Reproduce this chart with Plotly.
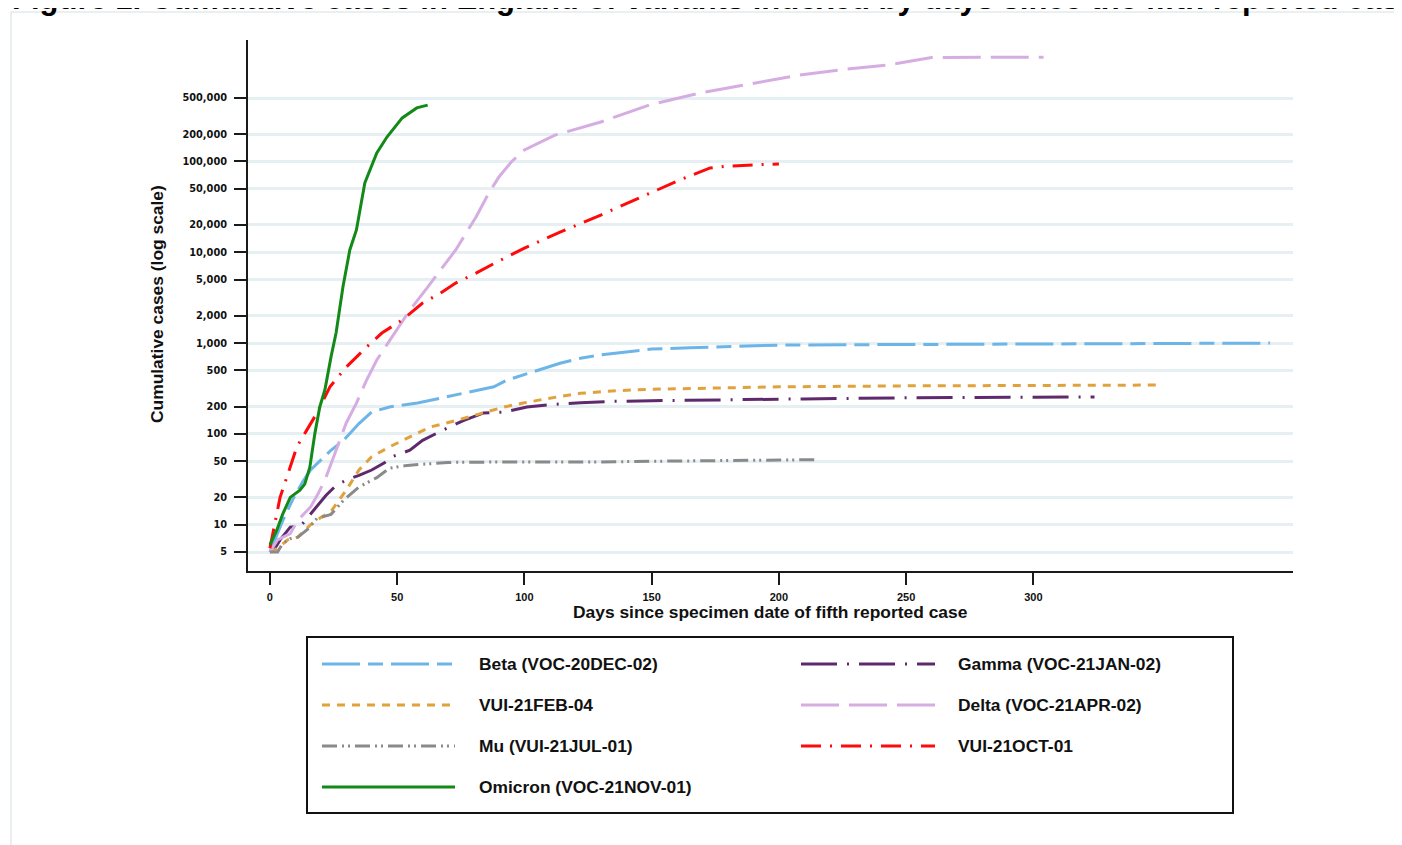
import plotly.graph_objects as go

# ---------------- data ----------------
beta_days = [0, 2, 5, 9, 13, 16, 20, 24, 29, 35, 40, 47, 58, 70, 80, 88, 93, 100, 106, 114, 122, 130, 140, 150, 165, 180, 200, 230, 260, 300, 340, 393]
beta_vals = [5, 7, 11, 19, 30, 40, 52, 66, 85, 130, 174, 198, 219, 260, 300, 330, 390, 450, 510, 600, 680, 740, 800, 860, 890, 920, 950, 960, 970, 980, 990, 1000]

gamma_days = [0, 2, 4, 7, 8, 12, 14.5, 18.5, 22, 26, 30, 35, 40, 45, 48, 55, 60, 68, 76, 84, 92, 101, 110, 122, 135, 150, 175, 210, 250, 290, 324]
gamma_vals = [5, 5.5, 6.8, 8.7, 9.4, 9.6, 11.7, 15.7, 21, 27, 31, 35, 40, 48, 56, 66, 85, 110, 140, 170, 174, 198, 210, 220, 228, 232, 238, 243, 250, 253, 255]

feb04_days = [0, 3, 7, 11, 16, 20, 24, 30, 35, 40, 47, 55, 63, 73, 84, 92, 100, 109, 122, 137, 150, 170, 200, 250, 300, 350]
feb04_vals = [5, 5.5, 6.8, 7.3, 10, 12, 14, 24, 40, 56, 72, 92, 119, 140, 170, 198, 220, 245, 280, 300, 310, 320, 330, 338, 343, 345]

mu_days = [0, 3, 5, 8, 11, 15, 18.5, 24, 29, 35, 42, 47, 54, 63, 70, 90, 110, 130, 150, 175, 200, 215]
mu_vals = [5, 5, 6.2, 7, 7.3, 9, 11.7, 13, 18.7, 26, 33, 42, 45, 47, 48.5, 49, 49, 49, 50, 50.5, 51, 52]

delta_days = [0, 3, 8, 11, 16, 19, 22, 26, 30, 34, 38, 42, 48, 55, 62, 68, 73, 81, 86, 90, 95, 100, 112, 130, 149, 169, 192, 208, 228, 243, 260, 287, 304]
delta_vals = [5, 6.8, 8, 11.2, 15.7, 22, 33, 66, 132, 218, 392, 651, 1170, 2310, 4140, 6880, 10600, 24500, 44900, 67600, 100000, 134000, 195000, 272000, 418000, 568000, 750000, 896000, 1050000, 1160000, 1400000, 1410000, 1410000]

oct01_days = [0, 2, 4, 6.6, 10.6, 14.5, 18.5, 23.6, 30, 38, 44, 52, 60, 67, 73, 81, 89, 100, 114, 130, 145, 161, 173, 180, 195, 200]
oct01_vals = [5.5, 10.4, 20, 33, 72, 110, 170, 330, 545, 905, 1290, 1800, 2760, 3550, 4580, 5890, 7770, 11100, 16700, 25700, 39600, 62500, 85000, 89000, 93000, 93700]

omicron_days = [0, 2.7, 5, 8, 11.8, 13.7, 15.7, 17.7, 19.6, 21.6, 24, 26, 28.7, 31.4, 34, 37.3, 42, 46, 52, 57.7, 62]
omicron_vals = [6, 8.7, 13, 20, 24, 28, 43, 102, 198, 304, 700, 1290, 4140, 10600, 17600, 58000, 124000, 186000, 302000, 389000, 418000]

series_names = ["Beta (VOC-20DEC-02)", "Gamma (VOC-21JAN-02)", "VUI-21FEB-04",
                "Delta (VOC-21APR-02)", "Mu (VUI-21JUL-01)", "VUI-21OCT-01",
                "Omicron (VOC-21NOV-01)"]
series_days = [beta_days, gamma_days, feb04_days, delta_days, mu_days, oct01_days, omicron_days]
series_vals = [beta_vals, gamma_vals, feb04_vals, delta_vals, mu_vals, oct01_vals, omicron_vals]

y_tickvals = [5, 10, 20, 50, 100, 200, 500, 1000, 2000, 5000, 10000, 20000,
              50000, 100000, 200000, 500000]
y_ticktext = ["5", "10", "20", "50", "100", "200", "500", "1,000", "2,000", "5,000",
              "10,000", "20,000", "50,000", "100,000", "200,000", "500,000"]
x_tickvals = [0, 50, 100, 150, 200, 250, 300]
x_ticktext = ["0", "50", "100", "150", "200", "250", "300"]

title_text = "Figure 1. Cumulative cases in England of variants indexed by days since the fifth reported case"
x_title = "Days since specimen date of fifth reported case"
y_title = "Cumulative cases (log scale)"

# ---------------- styles ----------------
colors = ["#6db5e6", "#5e2a6c", "#e0a23c", "#d5ade2", "#8a8a8a", "#ff0a0a", "#138a17"]
dashes = ["38px,8px,15px,8px", "36px,10px,2px,10px", "8px,7px", "38px,10px",
          "15px,5px,2px,4px,2px,5px", "20px,9px,2px,9px", "solid"]
# legend layout: (column, row)
legend_pos = [(0, 0), (1, 0), (0, 1), (1, 1), (0, 2), (1, 2), (0, 3)]

# page body has an 8px margin: figure is drawn 8px right / down of the page origin
OFF = 8
W, H = 1402 - OFF, 845 - OFF
# plot area in page pixels
L, R, T, B = 248, 1293, 40, 571

FONT = "Liberation Sans, Arial, sans-serif"


def px(x):
    return (x - L) / (R - L)


def py(y):
    return (B - y) / (B - T)


fig = go.Figure()
for name, d, v, c, ds in zip(series_names, series_days, series_vals, colors, dashes):
    fig.add_trace(go.Scatter(x=d, y=v, mode="lines", name=name,
                             line=dict(color=c, width=3, dash=ds),
                             showlegend=False))

shapes = []
annotations = []

# outer light frame
shapes.append(dict(type="rect", xref="paper", yref="paper",
                   x0=px(11), x1=px(1440), y0=py(900), y1=py(12),
                   line=dict(color="#e3ebee", width=1.5), layer="below"))

# legend box
shapes.append(dict(type="rect", xref="paper", yref="paper",
                   x0=px(307), x1=px(1233), y0=py(813), y1=py(637),
                   line=dict(color="#111111", width=2)))

col_line_x = [(322, 455), (801, 935)]
col_text_x = [477, 956]
row_y = [664, 705, 746, 787]
for name, c, ds, (col, row) in zip(series_names, colors, dashes, legend_pos):
    x0, x1 = col_line_x[col]
    yy = row_y[row]
    shapes.append(dict(type="line", xref="paper", yref="paper",
                       x0=px(x0), x1=px(x1), y0=py(yy), y1=py(yy),
                       line=dict(color=c, width=3, dash=ds)))
    annotations.append(dict(xref="paper", yref="paper", x=px(col_text_x[col]), y=py(yy),
                            xanchor="left", yanchor="middle", showarrow=False,
                            text="<b>" + name + "</b>",
                            font=dict(family=FONT, size=17.4, color="#111111")))

# axis titles
annotations.append(dict(xref="paper", yref="paper", x=px(770), y=py(612),
                        xanchor="center", yanchor="middle", showarrow=False,
                        text="<b>" + x_title + "</b>",
                        font=dict(family=FONT, size=17.4, color="#111111")))
annotations.append(dict(xref="paper", yref="paper", x=px(157), y=py(304),
                        xanchor="center", yanchor="middle", showarrow=False,
                        textangle=-90, text="<b>" + y_title + "</b>",
                        font=dict(family=FONT, size=17.4, color="#111111")))
# figure title (cut off at the top edge, as in the reference)
annotations.append(dict(xref="paper", yref="paper", x=px(10), y=py(-2),
                        xanchor="left", yanchor="middle", showarrow=False,
                        text="<b>" + title_text + "</b>",
                        font=dict(family=FONT, size=31, color="#000000")))

fig.update_layout(
    width=W, height=H,
    margin=dict(l=L - OFF, r=W - (R - OFF), t=T - OFF, b=H - (B - OFF), pad=0),
    paper_bgcolor="white", plot_bgcolor="white",
    shapes=shapes, annotations=annotations,
    showlegend=False,
)

fig.update_xaxes(
    range=[-8.6, 402], showgrid=False, zeroline=False,
    showline=True, linecolor="#1a1a1a", linewidth=2,
    ticks="outside", ticklen=12, tickwidth=2, tickcolor="#1a1a1a",
    tickvals=x_tickvals, ticktext=x_ticktext, ticklabelstandoff=3,
    tickfont=dict(family=FONT, size=11, color="#111111", weight="bold"),
)
fig.update_yaxes(
    type="log", range=[0.49, 6.338],
    showgrid=True, gridcolor="#e6eff2", gridwidth=3, zeroline=False,
    showline=True, linecolor="#1a1a1a", linewidth=2,
    ticks="outside", ticklen=12, tickwidth=2, tickcolor="#1a1a1a",
    tickvals=y_tickvals, ticktext=y_ticktext, ticklabelstandoff=5,
    tickfont=dict(family="DejaVu Sans, sans-serif", size=9.8, color="#111111", weight="bold"),
)

fig.write_html("out.html")
